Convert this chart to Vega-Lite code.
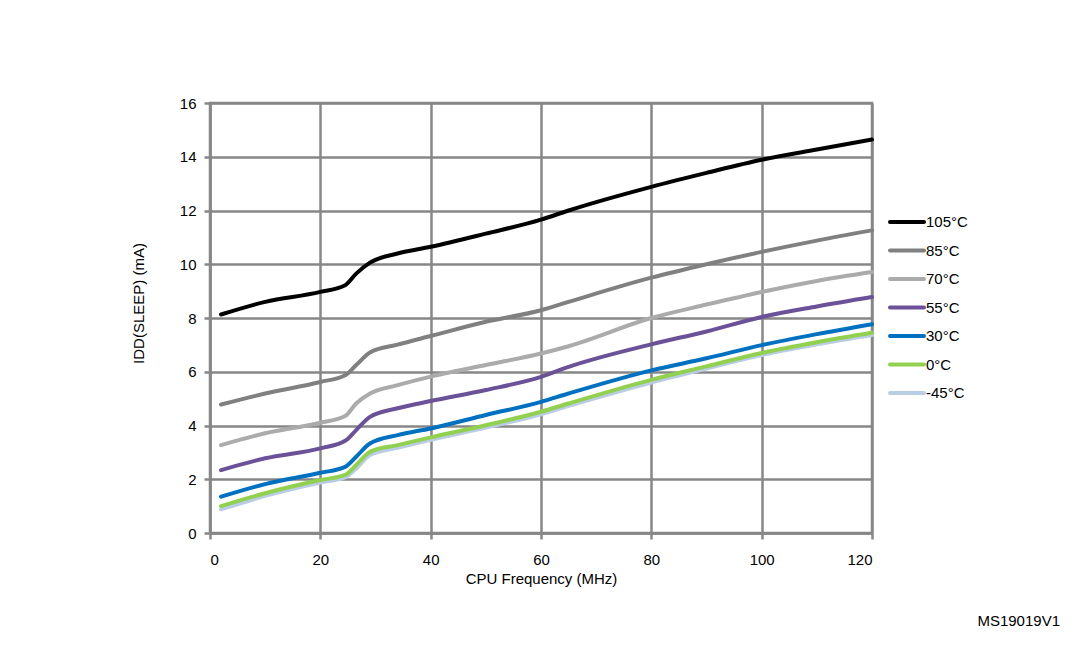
{
  "$schema": "https://vega.github.io/schema/vega-lite/v6.json",
  "width": 662,
  "height": 430,
  "autosize": {"type": "none"},
  "padding": {"left": 210, "top": 103, "right": 211, "bottom": 113},
  "background": "white",
  "config": {
    "font": "Liberation Sans",
    "view": {"stroke": "#878787", "strokeWidth": 2.5},
    "axis": {
      "gridColor": "#878787", "gridWidth": 2.5, "gridOpacity": 1,
      "domainColor": "#878787", "domainWidth": 2.5,
      "tickColor": "#878787", "tickWidth": 2.5, "tickSize": 6,
      "labelFontSize": 15, "labelColor": "#000000",
      "titleFontSize": 15, "titleFontWeight": "normal", "titleColor": "#000000"
    }
  },
  "title": {
    "text": "MS19019V1",
    "orient": "bottom",
    "anchor": "end",
    "frame": "group",
    "dx": 188,
    "offset": 28,
    "fontSize": 15,
    "fontWeight": "normal",
    "color": "#000000"
  },
  "data": {
    "values": [
      {"f": 2, "t": "-45°C", "v": 0.88}, {"f": 10, "t": "-45°C", "v": 1.38}, {"f": 20, "t": "-45°C", "v": 1.88}, {"f": 24.5, "t": "-45°C", "v": 2.07}, {"f": 26.5, "t": "-45°C", "v": 2.4}, {"f": 29, "t": "-45°C", "v": 2.9}, {"f": 34, "t": "-45°C", "v": 3.17}, {"f": 40, "t": "-45°C", "v": 3.47}, {"f": 50, "t": "-45°C", "v": 3.92}, {"f": 60, "t": "-45°C", "v": 4.42}, {"f": 65, "t": "-45°C", "v": 4.73}, {"f": 80, "t": "-45°C", "v": 5.6}, {"f": 90, "t": "-45°C", "v": 6.12}, {"f": 100, "t": "-45°C", "v": 6.62}, {"f": 110, "t": "-45°C", "v": 7.02}, {"f": 120, "t": "-45°C", "v": 7.37},
      {"f": 2, "t": "0°C", "v": 1.0}, {"f": 10, "t": "0°C", "v": 1.48}, {"f": 20, "t": "0°C", "v": 1.97}, {"f": 24.5, "t": "0°C", "v": 2.16}, {"f": 26.5, "t": "0°C", "v": 2.53}, {"f": 29, "t": "0°C", "v": 3.02}, {"f": 34, "t": "0°C", "v": 3.27}, {"f": 40, "t": "0°C", "v": 3.56}, {"f": 50, "t": "0°C", "v": 4.01}, {"f": 60, "t": "0°C", "v": 4.51}, {"f": 65, "t": "0°C", "v": 4.82}, {"f": 80, "t": "0°C", "v": 5.7}, {"f": 90, "t": "0°C", "v": 6.2}, {"f": 100, "t": "0°C", "v": 6.7}, {"f": 110, "t": "0°C", "v": 7.1}, {"f": 120, "t": "0°C", "v": 7.45},
      {"f": 2, "t": "30°C", "v": 1.35}, {"f": 10, "t": "30°C", "v": 1.82}, {"f": 20, "t": "30°C", "v": 2.24}, {"f": 24.5, "t": "30°C", "v": 2.46}, {"f": 26.5, "t": "30°C", "v": 2.84}, {"f": 29, "t": "30°C", "v": 3.33}, {"f": 34, "t": "30°C", "v": 3.64}, {"f": 40, "t": "30°C", "v": 3.89}, {"f": 50, "t": "30°C", "v": 4.39}, {"f": 60, "t": "30°C", "v": 4.88}, {"f": 65, "t": "30°C", "v": 5.19}, {"f": 80, "t": "30°C", "v": 6.05}, {"f": 90, "t": "30°C", "v": 6.5}, {"f": 100, "t": "30°C", "v": 6.99}, {"f": 110, "t": "30°C", "v": 7.4}, {"f": 120, "t": "30°C", "v": 7.77},
      {"f": 2, "t": "55°C", "v": 2.34}, {"f": 10, "t": "55°C", "v": 2.78}, {"f": 20, "t": "55°C", "v": 3.15}, {"f": 24.5, "t": "55°C", "v": 3.43}, {"f": 26.5, "t": "55°C", "v": 3.83}, {"f": 29, "t": "55°C", "v": 4.32}, {"f": 34, "t": "55°C", "v": 4.64}, {"f": 40, "t": "55°C", "v": 4.91}, {"f": 50, "t": "55°C", "v": 5.32}, {"f": 60, "t": "55°C", "v": 5.81}, {"f": 65, "t": "55°C", "v": 6.18}, {"f": 80, "t": "55°C", "v": 7.02}, {"f": 90, "t": "55°C", "v": 7.5}, {"f": 100, "t": "55°C", "v": 8.04}, {"f": 110, "t": "55°C", "v": 8.43}, {"f": 120, "t": "55°C", "v": 8.78},
      {"f": 2, "t": "70°C", "v": 3.27}, {"f": 10, "t": "70°C", "v": 3.71}, {"f": 20, "t": "70°C", "v": 4.1}, {"f": 24.5, "t": "70°C", "v": 4.35}, {"f": 26.5, "t": "70°C", "v": 4.82}, {"f": 29, "t": "70°C", "v": 5.19}, {"f": 34, "t": "70°C", "v": 5.5}, {"f": 40, "t": "70°C", "v": 5.82}, {"f": 50, "t": "70°C", "v": 6.25}, {"f": 60, "t": "70°C", "v": 6.68}, {"f": 65, "t": "70°C", "v": 6.95}, {"f": 80, "t": "70°C", "v": 8.0}, {"f": 90, "t": "70°C", "v": 8.5}, {"f": 100, "t": "70°C", "v": 8.97}, {"f": 110, "t": "70°C", "v": 9.38}, {"f": 120, "t": "70°C", "v": 9.71},
      {"f": 2, "t": "85°C", "v": 4.78}, {"f": 10, "t": "85°C", "v": 5.19}, {"f": 20, "t": "85°C", "v": 5.62}, {"f": 24.5, "t": "85°C", "v": 5.87}, {"f": 26.5, "t": "85°C", "v": 6.25}, {"f": 29, "t": "85°C", "v": 6.72}, {"f": 34, "t": "85°C", "v": 7.01}, {"f": 40, "t": "85°C", "v": 7.33}, {"f": 50, "t": "85°C", "v": 7.86}, {"f": 60, "t": "85°C", "v": 8.29}, {"f": 65, "t": "85°C", "v": 8.6}, {"f": 80, "t": "85°C", "v": 9.5}, {"f": 90, "t": "85°C", "v": 10.0}, {"f": 100, "t": "85°C", "v": 10.46}, {"f": 110, "t": "85°C", "v": 10.88}, {"f": 120, "t": "85°C", "v": 11.26},
      {"f": 2, "t": "105°C", "v": 8.13}, {"f": 10, "t": "105°C", "v": 8.6}, {"f": 20, "t": "105°C", "v": 8.97}, {"f": 24.5, "t": "105°C", "v": 9.22}, {"f": 26.5, "t": "105°C", "v": 9.65}, {"f": 29, "t": "105°C", "v": 10.06}, {"f": 34, "t": "105°C", "v": 10.4}, {"f": 40, "t": "105°C", "v": 10.65}, {"f": 50, "t": "105°C", "v": 11.14}, {"f": 60, "t": "105°C", "v": 11.66}, {"f": 65, "t": "105°C", "v": 12.0}, {"f": 80, "t": "105°C", "v": 12.88}, {"f": 90, "t": "105°C", "v": 13.4}, {"f": 100, "t": "105°C", "v": 13.89}, {"f": 110, "t": "105°C", "v": 14.27}, {"f": 120, "t": "105°C", "v": 14.64}
    ]
  },
  "mark": {"type": "line", "interpolate": "monotone", "strokeCap": "round", "strokeJoin": "round"},
  "encoding": {
    "x": {
      "field": "f", "type": "quantitative",
      "scale": {"domain": [0, 120], "nice": false},
      "axis": {"values": [0, 20, 40, 60, 80, 100, 120], "title": "CPU Frequency (MHz)", "labelPadding": 13, "titlePadding": 4}
    },
    "y": {
      "field": "v", "type": "quantitative",
      "scale": {"domain": [0, 16], "nice": false},
      "axis": {"values": [0, 2, 4, 6, 8, 10, 12, 14, 16], "title": "IDD(SLEEP) (mA)", "labelPadding": 8, "titlePadding": 33, "titleY": 200}
    },
    "color": {
      "field": "t", "type": "nominal",
      "scale": {
        "domain": ["105°C", "85°C", "70°C", "55°C", "30°C", "0°C", "-45°C"],
        "range": ["#000000", "#808080", "#ABABAB", "#6B5298", "#0070C0", "#92D050", "#B9CDE5"]
      },
      "legend": {
        "title": null,
        "orient": "none",
        "legendX": 678,
        "legendY": 100,
        "symbolType": "stroke",
        "symbolSize": 1156,
        "symbolStrokeWidth": 5,
        "symbolOpacity": 1,
        "labelFontSize": 15,
        "labelColor": "#000000",
        "labelOffset": 0,
        "rowPadding": 1.5,
        "encode": {"symbols": {"update": {"strokeCap": {"value": "round"}}}}
      }
    },
    "strokeWidth": {
      "field": "t", "type": "ordinal",
      "scale": {
        "domain": ["105°C", "85°C", "70°C", "55°C", "30°C", "0°C", "-45°C"],
        "range": [4, 4, 4, 4, 4, 2, 6]
      },
      "legend": null
    }
  }
}
